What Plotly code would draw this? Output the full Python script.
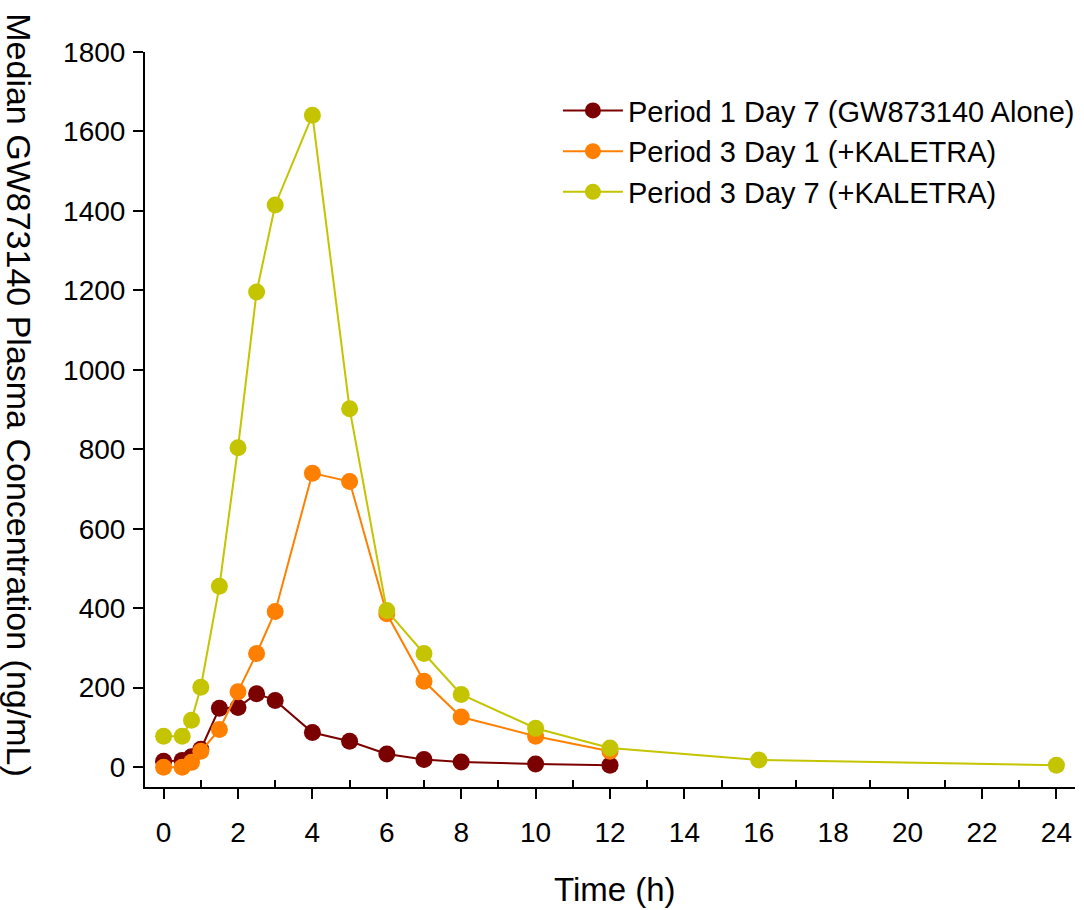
import plotly.graph_objects as go

# ---- data ----
time_p1 = [0, 0.5, 0.75, 1, 1.5, 2, 2.5, 3, 4, 5, 6, 7, 8, 10, 12]
conc_p1 = [15, 17, 26, 45, 148, 150, 185, 168, 87, 65, 33, 19, 13, 8, 5]

time_p3d1 = [0, 0.5, 0.75, 1, 1.5, 2, 2.5, 3, 4, 5, 6, 7, 8, 10, 12]
conc_p3d1 = [0, 0, 12, 40, 95, 190, 286, 392, 740, 719, 386, 216, 126, 78, 40]

time_p3d7 = [0, 0.5, 0.75, 1, 1.5, 2, 2.5, 3, 4, 5, 6, 7, 8, 10, 12, 16, 24]
conc_p3d7 = [78, 78, 118, 201, 455, 804, 1196, 1415, 1641, 902, 394, 286, 183, 98, 48, 18, 5]

series_names = ["Period 1 Day 7 (GW873140 Alone)",
                "Period 3 Day 1 (+KALETRA)",
                "Period 3 Day 7 (+KALETRA)"]
series_colors = ["#7b0000", "#ff8000", "#c4c400"]

x_ticks = list(range(0, 25, 2))
x_minor = list(range(1, 25, 2))
y_ticks = list(range(0, 1801, 200))

FONT = "Liberation Sans, Arial, sans-serif"

fig = go.Figure()
for t, c, name, col in zip([time_p1, time_p3d1, time_p3d7],
                           [conc_p1, conc_p3d1, conc_p3d7],
                           series_names, series_colors):
    fig.add_trace(go.Scatter(
        x=t, y=c, name=name, mode="lines+markers",
        line=dict(color=col, width=2),
        marker=dict(color=col, size=17, line=dict(width=0)),
    ))

fig.update_layout(
    width=1084, height=910,
    margin=dict(l=145, r=9, t=52, b=123, autoexpand=False),
    paper_bgcolor="white", plot_bgcolor="white",
    font=dict(family=FONT, size=28, color="black"),
    showlegend=True,
    legend=dict(x=0.444, y=0.955, xanchor="left", yanchor="top",
                bgcolor="rgba(0,0,0,0)", font=dict(size=29),
                itemwidth=60, tracegroupgap=0),
    xaxis=dict(range=[-0.5, 24.5], tickvals=x_ticks, ticks="outside",
               ticklen=10, tickwidth=2, tickcolor="black",
               showline=True, linecolor="black", linewidth=2,
               showgrid=False, zeroline=False, automargin=False,
               tickfont=dict(size=28), ticklabelstandoff=9,
               minor=dict(tickvals=x_minor, ticks="inside",
                          ticklen=7, tickwidth=2, tickcolor="black",
                          showgrid=False)),
    xaxis2=dict(range=[-0.5, 24.5], overlaying="x", side="top",
                tickvals=x_minor, ticks="inside",
                ticklen=7, tickwidth=2, tickcolor="black",
                showticklabels=False, showline=True, linecolor="black",
                linewidth=2, showgrid=False, zeroline=False,
                automargin=False),
    yaxis=dict(range=[-50, 1800], tickvals=y_ticks, ticks="outside",
               ticklen=10, tickwidth=2, tickcolor="black",
               showline=True, linecolor="black", linewidth=2,
               showgrid=False, zeroline=False, automargin=False,
               tickfont=dict(size=28), ticklabelstandoff=2),
    annotations=[
        dict(text="Time (h)", xref="paper", yref="paper",
             x=0.505, y=-0.140, xanchor="center", yanchor="middle",
             showarrow=False, font=dict(size=33)),
        dict(text="Median GW873140 Plasma Concentration (ng/mL)",
             xref="paper", yref="paper", x=-0.1355, y=0.533,
             xanchor="center", yanchor="middle", textangle=90,
             showarrow=False, font=dict(size=34)),
    ],
)

fig.write_html("out.html",
               config={"displayModeBar": False},
               post_script="document.body.style.margin='0';")
